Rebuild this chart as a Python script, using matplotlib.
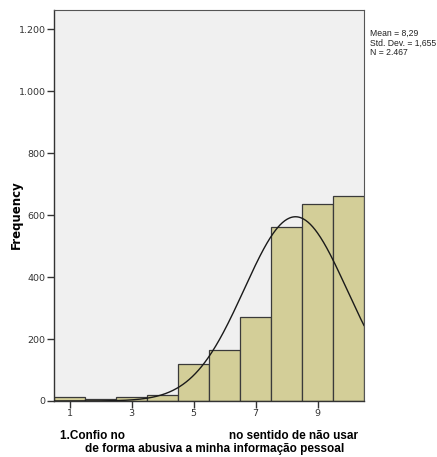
import numpy as np
import matplotlib
matplotlib.use('Agg')
import matplotlib.pyplot as plt
from matplotlib.ticker import FuncFormatter

# frequências por valor da escala (1 a 10)
valores = [1, 2, 3, 4, 5, 6, 7, 8, 9, 10]
frequencias = [14, 8, 12, 20, 118, 163, 271, 563, 637, 661]

media = 8.29
desvio = 1.655
n_total = 2467

y_ticks = [0, 200, 400, 600, 800, 1000, 1200]
x_ticks = [1, 3, 5, 7, 9]

fig = plt.figure(figsize=(4.37, 4.57), dpi=100)
ax = fig.add_axes([54 / 437, 1 - 401 / 457, 310 / 437, 391 / 457])
ax.set_facecolor('#F0F0F0')

ax.bar(valores, frequencias, width=1.0, color='#D3CE98', edgecolor='#3A3A3A',
       linewidth=0.9, zorder=2)

# curva normal ajustada (N * largura da classe * densidade)
xs = np.linspace(0.5, 10.5, 400)
ys = n_total * np.exp(-0.5 * ((xs - media) / desvio) ** 2) / (desvio * np.sqrt(2 * np.pi))
ax.plot(xs, ys, color='#1A1A1A', linewidth=1.0, zorder=3)

ax.set_xlim(0.5, 10.5)
ax.set_ylim(0, 1262)
ax.set_xticks(x_ticks)
ax.set_yticks(y_ticks)
ax.yaxis.set_major_formatter(FuncFormatter(lambda v, p: f'{int(v):,}'.replace(',', '.')))
ax.tick_params(axis='both', direction='out', length=5, width=1, color='#333333',
               labelsize=6.8, labelcolor='#333333', pad=1)

for s in ['left', 'bottom']:
    ax.spines[s].set_color('#333333')
    ax.spines[s].set_linewidth(1.0)
for s in ['top', 'right']:
    ax.spines[s].set_color('#555555')
    ax.spines[s].set_linewidth(0.8)

fig.text(16 / 437, 1 - 215 / 457, 'Frequency', rotation=90, ha='center', va='center',
         fontsize=8.5, fontweight='bold', family='DejaVu Sans')

media_txt = str(media).replace('.', ',')
desvio_txt = str(desvio).replace('.', ',')
n_txt = f'{n_total:,}'.replace(',', '.')
fig.text(370 / 437, 1 - 29 / 457,
         f'Mean = {media_txt}\nStd. Dev. = {desvio_txt}\nN = {n_txt}',
         ha='left', va='top', fontsize=6.2, color='#222222', linespacing=1.05,
         family='Liberation Sans')

fig.text(60 / 437, 1 - 436 / 457, '1.Confio no', ha='left', va='center',
         fontsize=8.5, fontweight='bold', family='Liberation Sans')
fig.text(358 / 437, 1 - 436 / 457, 'no sentido de não usar', ha='right', va='center',
         fontsize=8.5, fontweight='bold', family='Liberation Sans')
fig.text(85 / 437, 1 - 449 / 457, 'de forma abusiva a minha informação pessoal',
         ha='left', va='center', fontsize=8.5, fontweight='bold', family='Liberation Sans')

fig.savefig('out.png', dpi=100, facecolor='white')
